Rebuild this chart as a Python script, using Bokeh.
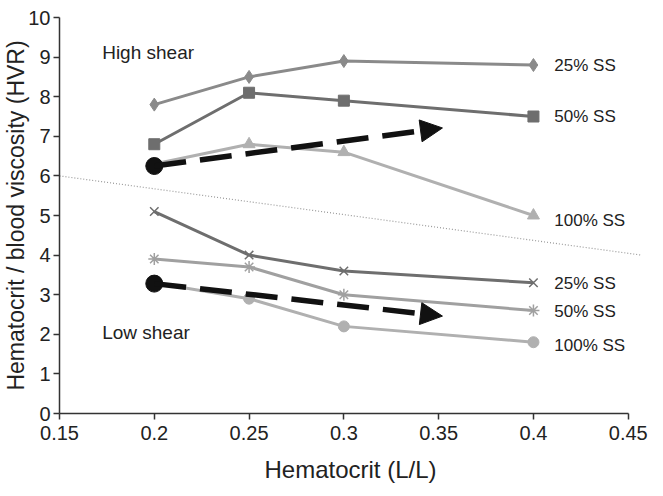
from bokeh.plotting import figure
from bokeh.models import Range1d, FixedTicker, Arrow, NormalHead, Label
from bokeh.embed import file_html
from bokeh.resources import INLINE

hct = [0.2, 0.25, 0.3, 0.4]
high_25 = [7.8, 8.5, 8.9, 8.8]
high_50 = [6.8, 8.1, 7.9, 7.5]
high_100 = [6.3, 6.8, 6.6, 5.0]
low_25 = [5.1, 4.0, 3.6, 3.3]
low_50 = [3.9, 3.7, 3.0, 2.6]
low_100 = [3.3, 2.9, 2.2, 1.8]

x_ticks = [0.15, 0.2, 0.25, 0.3, 0.35, 0.4, 0.45]
x_tick_labels = ["0.15", "0.2", "0.25", "0.3", "0.35", "0.4", "0.45"]
y_ticks = list(range(0, 11))

divider_x = [0.15, 0.457]
divider_y = [6.0, 4.0]

arrow_high = (0.2, 6.25, 0.352, 7.21)
arrow_low = (0.2, 3.28, 0.352, 2.46)

labels_high = [("25% SS", 8.79), ("50% SS", 7.5), ("100% SS", 4.87)]
labels_low = [("25% SS", 3.29), ("50% SS", 2.57), ("100% SS", 1.71)]

FONT = "Liberation Sans"

p = figure(frame_width=582, frame_height=396, output_backend="svg", toolbar_location=None,
           x_range=Range1d(0.15, 0.457), y_range=Range1d(0, 10),
           min_border_left=55, min_border_right=10, min_border_top=17, min_border_bottom=0)
p.outline_line_color = None
p.xgrid.grid_line_color = None
p.ygrid.grid_line_color = None

p.xaxis.ticker = FixedTicker(ticks=x_ticks)
p.xaxis.major_label_overrides = {t: l for t, l in zip(x_ticks, x_tick_labels)}
p.xaxis.bounds = (0.15, 0.45)
p.yaxis.ticker = FixedTicker(ticks=y_ticks)
for ax in (p.xaxis[0], p.yaxis[0]):
    ax.axis_line_color = "#333333"
    ax.axis_line_width = 1.5
    ax.major_tick_line_color = "#333333"
    ax.major_tick_line_width = 1.5
    ax.major_tick_out = 6
    ax.major_tick_in = 0
    ax.minor_tick_line_color = None
    ax.major_label_text_font = FONT
    ax.major_label_text_font_size = "20px"
    ax.major_label_text_color = "#222222"
    ax.axis_label_text_font = FONT
    ax.axis_label_text_font_style = "normal"
    ax.axis_label_text_color = "#222222"
p.xaxis.axis_label = "Hematocrit (L/L)"
p.yaxis.axis_label = "Hematocrit / blood viscosity (HVR)"
p.xaxis.axis_label_text_font_size = "24px"
p.yaxis.axis_label_text_font_size = "23px"
p.xaxis.major_label_standoff = 6
p.xaxis.axis_label_standoff = 13
p.yaxis.major_label_standoff = 3
p.yaxis.axis_label_standoff = -4

# divider
p.line(divider_x, divider_y, line_color="#999999", line_width=1.2, line_dash="1 2")

c25 = "#8a8a8a"
c50 = "#6e6e6e"
c100 = "#b0b0b0"

p.line(hct, high_25, line_color=c25, line_width=3)
p.scatter(hct, high_25, marker="diamond", size=13, fill_color=c25, line_color=c25)
p.line(hct, high_50, line_color=c50, line_width=3)
p.scatter(hct, high_50, marker="square", size=11, fill_color=c50, line_color=c50)
p.line(hct, high_100, line_color=c100, line_width=3)
p.scatter(hct, high_100, marker="triangle", size=12, fill_color=c100, line_color=c100)

p.line(hct, low_25, line_color=c50, line_width=3)
p.scatter(hct, low_25, marker="x", size=12, line_color=c50, line_width=1.5)
p.line(hct, low_50, line_color="#a0a0a0", line_width=3)
p.scatter(hct, low_50, marker="asterisk", size=12, line_color="#a0a0a0", line_width=1.5)
p.line(hct, low_100, line_color=c100, line_width=3)
p.scatter(hct, low_100, marker="circle", size=11, fill_color=c100, line_color=c100)

for (xs, ys, xe, ye) in (arrow_high, arrow_low):
    p.add_layout(Arrow(end=NormalHead(size=22, fill_color="#111111", line_color="#111111"),
                       x_start=xs, y_start=ys, x_end=xe, y_end=ye,
                       line_color="#111111", line_width=5.5, line_dash="32 14"))
    p.scatter([xs], [ys], marker="circle", size=17, fill_color="#111111", line_color="#111111")

for txt, yv in labels_high + labels_low:
    p.add_layout(Label(x=0.411, y=yv, text=txt, text_font=FONT, text_font_size="17px",
                       text_color="#222222", text_baseline="middle"))

p.add_layout(Label(x=0.1725, y=9.12, text="High shear", text_font=FONT, text_font_size="19px",
                   text_color="#222222", text_baseline="middle"))
p.add_layout(Label(x=0.1725, y=2.05, text="Low shear", text_font=FONT, text_font_size="19px",
                   text_color="#222222", text_baseline="middle"))

open("out.html", "w").write(file_html(p, INLINE))
